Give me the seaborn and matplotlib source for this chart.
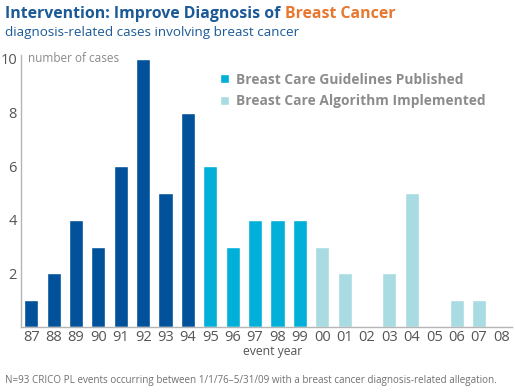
import matplotlib
matplotlib.use("Agg")
import matplotlib.pyplot as plt
import pandas as pd
import seaborn as sns

YEARS = ["87", "88", "89", "90", "91", "92", "93", "94", "95", "96", "97",
         "98", "99", "00", "01", "02", "03", "04", "05", "06", "07", "08"]
CASES = [1, 2, 4, 3, 6, 10, 5, 8, 6, 3, 4, 4, 4, 3, 2, 0, 2, 5, 0, 1, 1, 0]
PHASE = (["Baseline"] * 8
         + ["Breast Care Guidelines Published"] * 5
         + ["Breast Care Algorithm Implemented"] * 9)
PHASE_COLORS = {
    "Baseline": "#01529a",
    "Breast Care Guidelines Published": "#00b0d9",
    "Breast Care Algorithm Implemented": "#a8dce2",
}

df = pd.DataFrame({"year": YEARS, "cases": CASES, "phase": PHASE})

sns.set_style("white")
plt.rcParams["font.family"] = ["Open Sans", "DejaVu Sans"]

fig = plt.figure(figsize=(5.15, 3.92), dpi=100)
ax = fig.add_axes([0.041, 0.166, 0.953, 0.694])

sns.barplot(data=df, x="year", y="cases", hue="phase", palette=PHASE_COLORS,
            dodge=False, width=0.63, saturation=1, ax=ax)

ax.set_xlim(-0.45, 21.47)
ax.set_ylim(0, 10.15)
ax.set_yticks([2, 4, 6, 8, 10])
ax.tick_params(axis="y", length=0, labelsize=10.5, labelcolor="#555555", pad=3)
ax.tick_params(axis="x", length=0, labelsize=10.5, labelcolor="#555555", pad=2.5)
ax.set_xlabel("event year", fontsize=8.8, color="#555555", labelpad=0)
ax.xaxis.set_label_coords(0.512, -0.068)
ax.set_ylabel("")
for side in ["top", "right"]:
    ax.spines[side].set_visible(False)
for side in ["left", "bottom"]:
    ax.spines[side].set_color("#b5b5b5")
    ax.spines[side].set_linewidth(1)

ax.text(-0.14, 10.0, "number of cases", fontsize=8.5, color="#8a8a8a", va="center")

handles, labels = ax.get_legend_handles_labels()
leg = ax.legend(handles[1:], labels[1:], loc="upper left",
                bbox_to_anchor=(0.395, 0.955), frameon=False, fontsize=9.9,
                handlelength=0.65, handleheight=0.65, handletextpad=0.45,
                labelspacing=0.55, borderaxespad=0)
for t in leg.get_texts():
    t.set_color("#8c8c8c")
    t.set_fontweight("bold")

fig.text(0.01, 0.965, "Intervention: Improve Diagnosis of ", fontsize=11.4,
         fontweight="bold", color="#1b5a97", va="center")
fig.canvas.draw()
bb = fig.texts[0].get_window_extent().transformed(fig.transFigure.inverted())
fig.text(bb.x1, 0.965, "Breast Cancer", fontsize=11.4, fontweight="bold",
         color="#e8782f", va="center")
fig.text(0.01, 0.918, "diagnosis-related cases involving breast cancer",
         fontsize=9.7, color="#1b5a97", va="center")
fig.text(0.009, 0.03, "N=93 CRICO PL events occurring between 1/1/76\u20135/31/09 "
         "with a breast cancer diagnosis-related allegation.",
         fontsize=7.1, color="#707070", va="center")

fig.savefig("out.png", dpi=100)
